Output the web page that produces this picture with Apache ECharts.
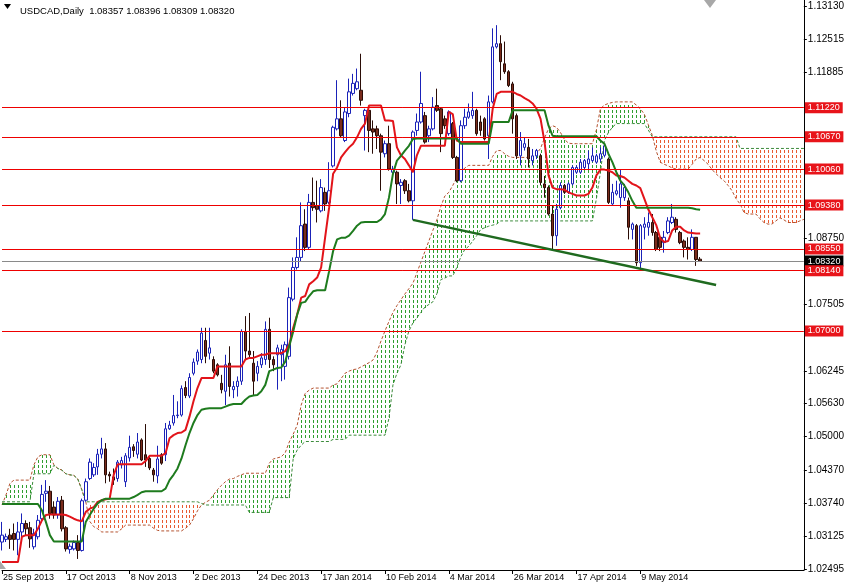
<!DOCTYPE html>
<html><head><meta charset="utf-8">
<script src="https://cdn.jsdelivr.net/npm/echarts@6/dist/echarts.min.js"></script>
<style>html,body{margin:0;padding:0;background:#fff}#c{width:847px;height:585px}</style>
</head><body><div id="c"></div>
<script>
const header = 'USDCAD,Daily  1.08357 1.08396 1.08309 1.08320';
const dateLabels = ['25 Sep 2013','17 Oct 2013','8 Nov 2013','2 Dec 2013','24 Dec 2013','17 Jan 2014','10 Feb 2014','4 Mar 2014','26 Mar 2014','17 Apr 2014','9 May 2014'];
const yTicks = [1.13130,1.12515,1.11885,1.08750,1.07505,1.06245,1.05630,1.05000,1.04370,1.03740,1.03125,1.02495];
const levels = [1.11220,1.10670,1.10060,1.09380,1.08550,1.08140,1.07000];
const lastPrice = 1.08320;
const trendFrom = [103, 1.0910];
const trendTo = [179, 1.0787];

const opens = [
1.0301,1.0306,1.0314,1.0317,1.0306,1.0320,1.0336,1.0328,1.0292,1.0311,
1.0345,1.0393,1.0397,1.0367,1.0352,1.0380,1.0328,1.0287,1.0288,1.0300,
1.0285,1.0380,1.0421,1.0428,1.0443,1.0467,1.0477,1.0429,1.0424,1.0421,
1.0447,1.0415,1.0460,1.0481,1.0467,1.0494,1.0466,1.0459,1.0437,1.0426,
1.0466,1.0466,1.0515,1.0526,1.0540,1.0541,1.0593,1.0577,1.0620,1.0643,
1.0646,1.0682,1.0658,1.0646,1.0636,1.0601,1.0586,1.0639,1.0589,1.0595,
1.0605,1.0699,1.0662,1.0639,1.0620,1.0636,1.0646,1.0703,1.0646,1.0655,
1.0655,1.0633,1.0652,1.0760,1.0820,1.0839,1.0902,1.0858,1.0943,1.0937,
1.0927,1.0962,1.0943,1.1012,1.1082,1.1101,1.1060,1.1111,1.1149,1.1158,
1.1155,1.1107,1.1117,1.1082,1.1082,1.1069,1.1035,1.1054,1.1000,1.1000,
1.0975,1.0984,1.0965,1.0946,1.1079,1.1095,1.1107,1.1069,1.1082,1.1126,
1.1120,1.1101,1.1073,1.1092,1.1028,1.0984,1.1088,1.1104,1.1107,1.1117,
1.1095,1.1101,1.1069,1.1133,1.1237,1.1243,1.1205,1.1190,1.1167,1.1107,
1.1031,1.1047,1.1047,1.1022,1.1031,1.1031,1.0978,1.0971,1.0921,1.0880,
1.0933,1.0975,1.0962,1.0978,1.1000,1.1000,1.1009,1.1016,1.1022,1.1019,
1.1025,1.1032,1.1025,1.0940,1.0959,1.0952,1.0952,1.0946,1.0892,1.0899,
1.0829,1.0896,1.0896,1.0905,1.0886,1.0877,1.0867,1.0886,1.0905,1.0911,
1.0886,1.0870,1.0858,1.0854,1.0877,1.08357];
const closes = [
1.0314,1.0311,1.0306,1.0306,1.0320,1.0336,1.0326,1.0307,1.0317,1.0342,
1.0391,1.0397,1.0355,1.0352,1.0378,1.0326,1.0288,1.0293,1.0300,1.0285,
1.0379,1.0415,1.0452,1.0442,1.0467,1.0477,1.0428,1.0426,1.0418,1.0452,
1.0455,1.0464,1.0480,1.0474,1.0490,1.0456,1.0456,1.0441,1.0428,1.0458,
1.0450,1.0515,1.0522,1.0540,1.0541,1.0591,1.0578,1.0612,1.0641,1.0660,
1.0696,1.0652,1.0668,1.0624,1.0617,1.0589,1.0636,1.0595,1.0595,1.0605,
1.0699,1.0662,1.0655,1.0605,1.0633,1.0649,1.0703,1.0646,1.0636,1.0668,
1.0665,1.0674,1.0763,1.0820,1.0839,1.0899,1.0858,1.0943,1.0933,1.0930,
1.0971,1.0940,1.0965,1.1085,1.1101,1.1069,1.1114,1.1152,1.1168,1.1171,
1.1136,1.1117,1.1079,1.1076,1.1069,1.1038,1.1054,1.1006,1.1006,1.0978,
1.0981,1.0965,1.0946,1.1076,1.1095,1.1130,1.1057,1.1082,1.1123,1.1117,
1.1073,1.1088,1.1114,1.1028,1.0984,1.1088,1.1104,1.1114,1.1117,1.1073,
1.1079,1.1063,1.1133,1.1237,1.1243,1.1209,1.1190,1.1164,1.1101,1.1031,
1.1060,1.1054,1.1025,1.1031,1.1041,1.0981,1.0971,1.0921,1.0880,1.0930,
1.0975,1.0962,1.0978,1.1009,1.1009,1.1019,1.1022,1.1025,1.1031,1.1031,
1.1035,1.1050,1.0943,1.0962,1.0965,1.0978,1.0971,1.0896,1.0902,1.0829,
1.0899,1.0902,1.0905,1.0886,1.0854,1.0858,1.0877,1.0908,1.0915,1.0892,
1.0867,1.0858,1.0854,1.0877,1.0835,1.08320];
const lows = [
1.0285,1.0301,1.0288,1.0285,1.0276,1.0301,1.0314,1.0290,1.0287,1.0306,
1.0338,1.0377,1.0345,1.0345,1.0345,1.0321,1.0283,1.0279,1.0285,1.0269,
1.0283,1.0377,1.0418,1.0424,1.0428,1.0459,1.0412,1.0415,1.0409,1.0415,
1.0440,1.0405,1.0453,1.0462,1.0459,1.0454,1.0443,1.0437,1.0415,1.0412,
1.0447,1.0454,1.0513,1.0521,1.0535,1.0538,1.0573,1.0573,1.0616,1.0636,
1.0639,1.0639,1.0646,1.0620,1.0614,1.0582,1.0560,1.0576,1.0573,1.0576,
1.0598,1.0646,1.0649,1.0579,1.0605,1.0630,1.0636,1.0630,1.0624,1.0589,
1.0605,1.0608,1.0646,1.0756,1.0816,1.0832,1.0851,1.0854,1.0927,1.0905,
1.0924,1.0927,1.0940,1.1009,1.1079,1.1066,1.1057,1.1104,1.1145,1.1155,
1.1126,1.1041,1.1038,1.1035,1.1044,1.0965,1.1028,1.1003,1.0990,1.0940,
1.0940,1.0959,1.0943,1.0910,1.1069,1.1092,1.1054,1.1057,1.1079,1.1114,
1.1038,1.1082,1.1069,1.1025,1.0981,1.0981,1.1082,1.1101,1.1101,1.1069,
1.1069,1.1060,1.1025,1.1130,1.1234,1.1174,1.1186,1.1161,1.1073,1.1025,
1.1013,1.1041,1.1009,1.1013,1.1025,1.0975,1.0952,1.0918,1.0854,1.0861,
1.0930,1.0959,1.0959,1.0975,1.0997,1.0997,1.1006,1.1006,1.1019,1.1016,
1.1019,1.1028,1.0940,1.0937,1.0956,1.0933,1.0946,1.0873,1.0873,1.0823,
1.0816,1.0873,1.0880,1.0880,1.0851,1.0851,1.0848,1.0883,1.0902,1.0886,
1.0864,1.0839,1.0835,1.0851,1.0823,1.08309];
const highs = [
1.0339,1.0317,1.0326,1.0336,1.0339,1.0355,1.0342,1.0339,1.0326,1.0352,
1.0409,1.0418,1.0407,1.0378,1.0386,1.0388,1.0331,1.0298,1.0304,1.0314,
1.0383,1.0421,1.0459,1.0450,1.0477,1.0498,1.0488,1.0434,1.0440,1.0456,
1.0462,1.0469,1.0502,1.0486,1.0507,1.0497,1.0524,1.0464,1.0441,1.0483,
1.0469,1.0526,1.0530,1.0579,1.0567,1.0597,1.0605,1.0620,1.0648,1.0665,
1.0706,1.0706,1.0706,1.0652,1.0639,1.0617,1.0655,1.0671,1.0605,1.0614,
1.0703,1.0728,1.0734,1.0662,1.0643,1.0658,1.0718,1.0725,1.0652,1.0674,
1.0674,1.0680,1.0782,1.0839,1.0877,1.0943,1.0930,1.0959,1.0990,1.0984,
1.0987,1.0971,1.1019,1.1088,1.1174,1.1136,1.1123,1.1177,1.1186,1.1196,
1.1224,1.1120,1.1120,1.1098,1.1088,1.1073,1.1060,1.1088,1.1012,1.1003,
1.0987,1.0987,1.0978,1.1079,1.1111,1.1190,1.1114,1.1088,1.1142,1.1158,
1.1123,1.1107,1.1117,1.1095,1.1031,1.1098,1.1120,1.1130,1.1152,1.1120,
1.1107,1.1104,1.1145,1.1272,1.1278,1.1259,1.1247,1.1193,1.1171,1.1111,
1.1076,1.1066,1.1063,1.1044,1.1044,1.1035,1.0993,1.0975,1.0937,1.0940,
1.0981,1.0978,1.0981,1.1013,1.1013,1.1025,1.1025,1.1041,1.1047,1.1035,
1.1047,1.1054,1.1028,1.0978,1.0984,1.1006,1.0978,1.0952,1.0905,1.0902,
1.0902,1.0915,1.0924,1.0921,1.0889,1.0880,1.0889,1.0915,1.0940,1.0915,
1.0889,1.0873,1.0877,1.0892,1.0877,1.08396];
const tenkan = [
1.0263,1.0263,1.0263,1.0263,1.0263,1.0311,1.0314,1.0314,1.0314,1.0326,
1.0342,1.0352,1.0353,1.0353,1.0353,1.0353,1.0352,1.0349,1.0345,1.0342,
1.0340,1.0358,1.0364,1.0367,1.0377,1.0380,1.0382,1.0383,1.0428,1.0448,
1.0448,1.0448,1.0448,1.0448,1.0448,1.0448,1.0454,1.0464,1.0464,1.0464,
1.0464,1.0469,1.0497,1.0503,1.0507,1.0508,1.0513,1.0538,1.0567,1.0592,
1.0611,1.0611,1.0611,1.0611,1.0633,1.0633,1.0633,1.0633,1.0633,1.0633,
1.0633,1.0646,1.0649,1.0649,1.0652,1.0655,1.0655,1.0658,1.0658,1.0658,
1.0658,1.0662,1.0674,1.0706,1.0731,1.0763,1.0766,1.0788,1.0794,1.0801,
1.0820,1.0877,1.0933,1.0997,1.1009,1.1028,1.1038,1.1047,1.1054,1.1066,
1.1082,1.1092,1.1126,1.1126,1.1126,1.1126,1.1098,1.1098,1.1097,1.1047,
1.1032,1.1025,1.1013,1.1000,1.1032,1.1050,1.1050,1.1050,1.1050,1.1050,
1.1050,1.1050,1.1114,1.1110,1.1060,1.1057,1.1057,1.1057,1.1057,1.1057,
1.1057,1.1057,1.1057,1.1120,1.1148,1.1152,1.1152,1.1152,1.1152,1.1148,
1.1145,1.1140,1.1136,1.1130,1.1120,1.1101,1.1057,1.0994,1.0971,1.0968,
1.0968,1.0967,1.0962,1.0959,1.0956,1.0956,1.0956,1.0959,1.0971,1.0994,
1.1005,1.1005,1.1003,1.1000,1.0994,1.0993,1.0990,1.0984,1.0978,1.0975,
1.0970,1.0950,1.0930,1.0915,1.0900,1.0875,1.0868,1.0870,1.0890,1.0897,
1.0897,1.0890,1.0886,1.0885,1.0884,1.0884];
const kijun = [
1.0373,1.0373,1.0373,1.0373,1.0373,1.0373,1.0373,1.0373,1.0373,1.0373,
1.0361,1.0339,1.0314,1.0302,1.0302,1.0302,1.0302,1.0302,1.0302,1.0302,
1.0302,1.0339,1.0352,1.0364,1.0374,1.0380,1.0383,1.0383,1.0383,1.0383,
1.0383,1.0383,1.0383,1.0386,1.0390,1.0395,1.0397,1.0397,1.0397,1.0397,
1.0397,1.0402,1.0418,1.0428,1.0440,1.0459,1.0484,1.0507,1.0526,1.0541,
1.0551,1.0553,1.0554,1.0554,1.0554,1.0554,1.0557,1.0560,1.0562,1.0562,
1.0562,1.0570,1.0576,1.0578,1.0579,1.0586,1.0598,1.0624,1.0627,1.0630,
1.0631,1.0642,1.0671,1.0699,1.0731,1.0753,1.0755,1.0766,1.0775,1.0777,
1.0777,1.0777,1.0813,1.0851,1.0873,1.0876,1.0876,1.0880,1.0889,1.0899,
1.0905,1.0906,1.0906,1.0906,1.0906,1.0911,1.0921,1.0952,1.0997,1.1022,
1.1031,1.1041,1.1050,1.1063,1.1064,1.1064,1.1064,1.1064,1.1064,1.1064,
1.1064,1.1064,1.1064,1.1064,1.1064,1.1054,1.1054,1.1054,1.1054,1.1054,
1.1054,1.1054,1.1054,1.1095,1.1095,1.1095,1.1095,1.1095,1.1117,1.1117,
1.1117,1.1117,1.1117,1.1117,1.1117,1.1117,1.1117,1.1088,1.1069,1.1068,
1.1068,1.1068,1.1068,1.1068,1.1068,1.1068,1.1068,1.1068,1.1068,1.1068,
1.1060,1.1054,1.1035,1.1019,1.1000,1.0984,1.0975,1.0962,1.0946,1.0933,
1.0933,1.0933,1.0933,1.0933,1.0933,1.0933,1.0933,1.0933,1.0933,1.0933,
1.0933,1.0933,1.0933,1.0932,1.0930,1.0929];
const spanA = [
1.0371,1.0390,1.0412,1.0418,1.0418,1.0418,1.0418,1.0418,1.0447,1.0462,
1.0466,1.0466,1.0466,1.0447,1.0440,1.0437,1.0430,1.0428,1.0427,1.0420,
1.0400,1.0377,1.0340,1.0330,1.0326,1.0320,1.0320,1.0320,1.0320,1.0320,
1.0326,1.0333,1.0333,1.0333,1.0333,1.0333,1.0333,1.0333,1.0327,1.0323,
1.0322,1.0322,1.0322,1.0322,1.0322,1.0322,1.0327,1.0333,1.0345,1.0360,
1.0371,1.0376,1.0380,1.0390,1.0400,1.0408,1.0415,1.0420,1.0421,1.0425,
1.0428,1.0431,1.0431,1.0431,1.0431,1.0431,1.0431,1.0450,1.0458,1.0460,
1.0462,1.0470,1.0490,1.0505,1.0522,1.0560,1.0582,1.0588,1.0592,1.0592,
1.0592,1.0592,1.0592,1.0598,1.0600,1.0610,1.0620,1.0624,1.0627,1.0628,
1.0632,1.0636,1.0640,1.0645,1.0660,1.0681,1.0700,1.0718,1.0735,1.0748,
1.0759,1.0770,1.0780,1.0790,1.0810,1.0830,1.0850,1.0870,1.0890,1.0910,
1.0935,1.0955,1.0962,1.0975,1.0990,1.1000,1.1008,1.1013,1.1013,1.1013,
1.1013,1.1013,1.1013,1.1030,1.1041,1.1041,1.1035,1.1030,1.1028,1.1028,
1.1028,1.1028,1.1028,1.1028,1.1035,1.1045,1.1065,1.1082,1.1088,1.1085,
1.1075,1.1062,1.1055,1.1054,1.1054,1.1054,1.1054,1.1054,1.1054,1.1080,
1.1120,1.1127,1.1130,1.1132,1.1133,1.1133,1.1133,1.1133,1.1133,1.1127,
1.1120,1.1110,1.1090,1.1070,1.1040,1.1019,1.1015,1.1012,1.1008,1.1006,
1.1006,1.1006,1.1006,1.1015,1.1025,1.1028,1.1022,1.1015,1.1005,1.0997,
1.0990,1.0984,1.0975,1.0965,1.0950,1.0940,1.0924,1.0921,1.0921,1.0921,
1.0912,1.0905,1.0902,1.0902,1.0908,1.0914,1.0910,1.0905,1.0905,1.0905,
1.0908,1.0911];
const spanB = [
1.0377,1.0377,1.0377,1.0377,1.0377,1.0377,1.0377,1.0377,1.0430,1.0430,
1.0430,1.0430,1.0430,1.0446,1.0440,1.0437,1.0430,1.0428,1.0427,1.0420,
1.0400,1.0377,1.0377,1.0377,1.0377,1.0377,1.0377,1.0377,1.0377,1.0377,
1.0377,1.0377,1.0377,1.0377,1.0377,1.0377,1.0377,1.0377,1.0377,1.0377,
1.0377,1.0377,1.0377,1.0377,1.0377,1.0377,1.0377,1.0377,1.0377,1.0377,
1.0374,1.0371,1.0371,1.0371,1.0371,1.0371,1.0371,1.0371,1.0371,1.0371,
1.0371,1.0371,1.0357,1.0357,1.0357,1.0357,1.0357,1.0357,1.0385,1.0385,
1.0385,1.0385,1.0385,1.0459,1.0475,1.0484,1.0491,1.0491,1.0491,1.0491,
1.0491,1.0491,1.0491,1.0495,1.0495,1.0495,1.0495,1.0503,1.0503,1.0503,
1.0503,1.0503,1.0503,1.0503,1.0503,1.0503,1.0503,1.0535,1.0598,1.0620,
1.0636,1.0674,1.0700,1.0715,1.0725,1.0735,1.0745,1.0750,1.0755,1.0770,
1.0797,1.0800,1.0804,1.0804,1.0820,1.0840,1.0854,1.0860,1.0870,1.0880,
1.0892,1.0895,1.0898,1.0900,1.0902,1.0908,1.0908,1.0908,1.0908,1.0908,
1.0908,1.0908,1.0908,1.0908,1.0908,1.0908,1.0908,1.0908,1.0908,1.0908,
1.0908,1.0908,1.0908,1.0908,1.0908,1.0908,1.0908,1.0908,1.0908,1.0950,
1.1000,1.1060,1.1075,1.1085,1.1092,1.1092,1.1092,1.1092,1.1092,1.1092,
1.1092,1.1092,1.1080,1.1067,1.1067,1.1067,1.1067,1.1067,1.1067,1.1067,
1.1067,1.1067,1.1067,1.1067,1.1067,1.1067,1.1067,1.1067,1.1067,1.1067,
1.1067,1.1067,1.1067,1.1067,1.1067,1.1045,1.1045,1.1045,1.1045,1.1045,
1.1045,1.1045,1.1045,1.1045,1.1045,1.1045,1.1045,1.1045,1.1045,1.1045,
1.1045,1.1045];

const N = spanA.length;
const cats = [];
for (let i = 0; i < N; i++) cats.push(String(i));
const candleData = opens.map((o, i) => [o, closes[i], lows[i], highs[i]]);
const cloudData = spanA.map((a, i) => [i, a, spanB[i]]);
const FONT = 'Liberation Sans';

function levelItem(v, lineColor, boxColor) {
  return {
    yAxis: v,
    lineStyle: { color: lineColor, width: 1, type: 'solid' },
    label: { show: true, position: 'end', distance: 1, formatter: v.toFixed(5), color: '#fff',
             backgroundColor: boxColor, padding: [1, 3, 1, 3], lineHeight: 9, fontSize: 9, fontFamily: FONT }
  };
}
const markData = [levelItem(lastPrice, '#8a8a8a', '#000')].concat(levels.map(v => levelItem(v, '#ee0000', '#e8141a')));
markData.push([
  { coord: [String(trendFrom[0]), trendFrom[1]], lineStyle: { color: '#1f6a1f', width: 2.5, type: 'solid' }, label: { show: false } },
  { coord: [String(trendTo[0]), trendTo[1]] }
]);

const chart = echarts.init(document.getElementById('c'), null, { renderer: 'canvas' });
chart.setOption({
  animation: false,
  backgroundColor: '#fff',
  title: { text: header, left: 15, top: 1, textStyle: { fontSize: 9.5, fontWeight: 'normal', color: '#000', fontFamily: FONT } },
  grid: { left: 0, right: 41, top: 0, bottom: 15, containLabel: false },
  xAxis: {
    type: 'category', data: cats, boundaryGap: false,
    axisLine: { lineStyle: { color: '#000', width: 1 } },
    axisTick: { show: true, length: 4, interval: (i) => i % 16 === 0 && i / 16 < dateLabels.length, lineStyle: { color: '#000' } },
    axisLabel: { interval: (i) => i % 16 === 0 && i / 16 < dateLabels.length, formatter: (v) => dateLabels[Number(v) / 16] || '',
                 align: 'left', margin: 3, fontSize: 9, color: '#000', fontFamily: FONT, padding: [0, 0, 0, 1] },
    splitLine: { show: false }
  },
  yAxis: {
    type: 'value', position: 'right', min: 1.02481, max: 1.13256, scale: true,
    axisLine: { show: true, lineStyle: { color: '#000', width: 1 } },
    axisTick: { show: true, length: 3, customValues: yTicks, lineStyle: { color: '#000' } },
    axisLabel: { customValues: yTicks, formatter: v => v.toFixed(5), fontSize: 10, color: '#000', fontFamily: FONT, margin: 4 },
    splitLine: { show: false }
  },
  series: [
    {
      type: 'custom', name: 'cloud', z: 1, clip: true, silent: true, progressive: 0,
      data: cloudData, encode: { x: 0, y: [1, 2] },
      renderItem: (params, api) => {
        const i = api.value(0), a = api.value(1), b = api.value(2);
        const p1 = api.coord([i, Math.max(a, b)]), p2 = api.coord([i, Math.min(a, b)]);
        const x = Math.round(p1[0]);
        const color = a >= b ? '#2e9e2e' : '#e85a30';
        const dots = [];
        for (let y = Math.ceil(p1[1] / 5) * 5; y + 3 <= p2[1] + 1; y += 5) {
          dots.push({ type: 'rect', shape: { x: x, y: y, width: 1, height: 3 }, style: { fill: color } });
        }
        return { type: 'group', children: dots };
      }
    },
    { type: 'line', name: 'Senkou A', data: spanA, z: 2, symbol: 'none', silent: true,
      lineStyle: { color: '#b4512e', width: 1, type: [3, 2] } },
    { type: 'line', name: 'Senkou B', data: spanB, z: 2, symbol: 'none', silent: true,
      lineStyle: { color: '#3a8a3a', width: 1, type: [3, 2] } },
    {
      type: 'candlestick', name: 'USDCAD', data: candleData, z: 3, barWidth: 3,
      itemStyle: { color: '#ffffff', color0: '#7a2c1c', borderColor: '#1a22b8', borderColor0: '#2a0c06', borderWidth: 1 },
      markLine: { symbol: ['none', 'none'], silent: true, animation: false, precision: 5, data: markData }
    },
    { type: 'line', name: 'Tenkan', data: tenkan, z: 4, symbol: 'none', silent: true,
      lineStyle: { color: '#e2141a', width: 2 } },
    { type: 'line', name: 'Kijun', data: kijun, z: 4, symbol: 'none', silent: true,
      lineStyle: { color: '#1e7b1e', width: 2 } }
  ],
  graphic: [
    { type: 'polygon', shape: { points: [[4, 4], [11, 4], [7.5, 9]] }, style: { fill: '#000' } },
    { type: 'polygon', shape: { points: [[704, 0], [716, 0], [710, 8]] }, style: { fill: '#a8a8a8' } },
    { type: 'polygon', shape: { points: [[0, 561], [6, 569], [0, 569]] }, style: { fill: '#a8a8a8' } }
  ]
});
</script></body></html>
